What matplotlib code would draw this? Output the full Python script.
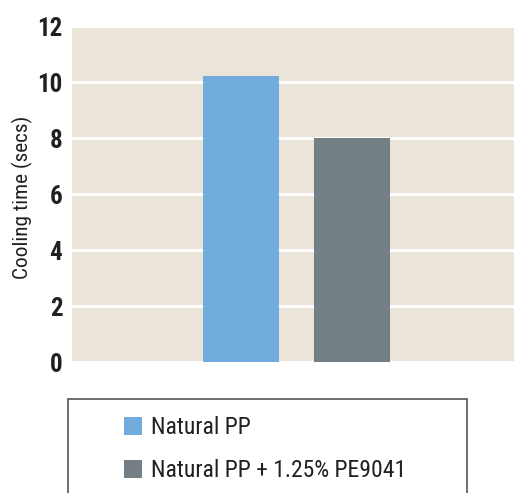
import matplotlib.pyplot as plt
from matplotlib import font_manager
from matplotlib.patches import Rectangle, Patch

# Cooling time for the two materials
series = ["Natural PP", "Natural PP + 1.25% PE9041"]
cooling_time = [10.2, 8.0]
colors = ["#72acdc", "#737f84"]
yticks = [0, 2, 4, 6, 8, 10, 12]

# pick a condensed sans if one is around
installed = {f.name for f in font_manager.fontManager.ttflist}
wanted = ["Roboto Condensed", "Archivo Narrow", "PT Sans Narrow", "Liberation Sans Narrow",
          "Open Sans Condensed", "Liberation Sans"]
family = [n for n in wanted if n in installed][:1] + ["DejaVu Sans"]
plt.rcParams["font.family"] = family

fig = plt.figure(figsize=(5.14, 4.93), dpi=100)
ax = fig.add_axes([72 / 514, 1 - 362 / 493, 442 / 514, 336 / 493])
ax.set_facecolor("#eae4d9")

x = list(range(len(series)))
ax.bar(x, cooling_time, width=0.685, color=colors, zorder=3)

ax.set_ylim(0, 12)
ax.set_xlim(-1.523, 2.459)
ax.set_yticks(yticks)
ax.set_yticklabels([str(t) for t in yticks], fontsize=18, fontweight="bold", color="#231f20")
ax.tick_params(axis="y", length=0, pad=7)
ax.set_xticks([])
for s in ax.spines.values():
    s.set_visible(False)
ax.yaxis.grid(True, color="white", linewidth=2.2, zorder=1)
ax.set_axisbelow(True)

ax.set_ylabel("Cooling time (secs)", fontsize=15.3, color="#231f20")
ax.yaxis.set_label_coords(-0.088, 0.49)

# legend box running off the bottom edge
fig.patches.append(Rectangle((68 / 514, -0.05), (467 - 68) / 514, 0.05 + 1 - 399 / 493,
                             transform=fig.transFigure, facecolor="white",
                             edgecolor="#555555", linewidth=1.2))
handles = [Patch(facecolor=c, edgecolor="none") for c in colors]
fig.legend(handles, series, loc="upper left", bbox_to_anchor=(103 / 514, 1 - 395 / 493),
           frameon=False, fontsize=17, handlelength=0.75, handleheight=0.75,
           handletextpad=0.4, labelspacing=0.85, labelcolor="#231f20")

fig.savefig("out.png", dpi=100)
